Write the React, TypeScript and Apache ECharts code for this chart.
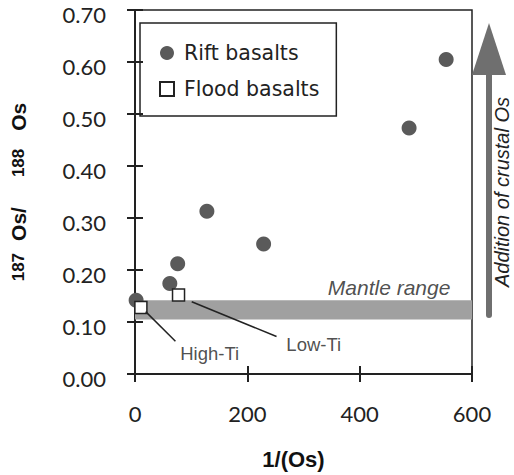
import React, { useEffect, useRef } from "react";
import * as echarts from "echarts";

// Data
const riftX = [2, 62, 76, 128, 229, 488, 554];
const riftY = [0.142, 0.174, 0.212, 0.313, 0.25, 0.473, 0.605];
const floodX = [10.5, 77.5];
const floodY = [0.128, 0.152];
const mantleRange = [0.105, 0.142];
const mantleX = [0, 600];
const xTickRange = [0, 600, 200];
const yTickRange = [0, 0.7, 0.1];
const annotationNames = ["High-Ti", "Low-Ti"];
const leaderFrom = [[19, 0.12], [101, 0.139]];
const leaderTo = [[72, 0.063], [252, 0.072]];
const labelAt = [[80.5, 0.04], [269.5, 0.057]];
const mantleLabelAt = [561.5, 0.167];

const SANS = "Lato, 'Open Sans', sans-serif";
const WIDE = "'DejaVu Sans', sans-serif";
const ARIAL = "'Liberation Sans', Arial, sans-serif";

export default function App() {
  const ref = useRef<HTMLDivElement>(null);
  useEffect(() => {
    document.body.style.margin = "0";
    if (!ref.current) return;
    const chart = echarts.init(ref.current, undefined, { renderer: "svg" });
    const axisColor = "#222";
    const xAxisBase = {
      type: "value",
      min: xTickRange[0],
      max: xTickRange[1],
      interval: xTickRange[2],
      splitLine: { show: false },
    };
    const yAxisBase = {
      type: "value",
      min: yTickRange[0],
      max: yTickRange[1],
      interval: yTickRange[2],
      splitLine: { show: false },
    };
    chart.setOption({
      animation: false,
      backgroundColor: "#fff",
      grid: {
        left: 129,
        right: 42,
        top: 10,
        bottom: 97,
        show: true,
        borderColor: axisColor,
        borderWidth: 1.5,
        backgroundColor: "transparent",
      },
      legend: {
        left: 140,
        top: 23,
        orient: "vertical",
        borderColor: axisColor,
        borderWidth: 1.5,
        padding: [19, 17, 16, 19],
        itemGap: 14,
        itemWidth: 14,
        itemHeight: 14,
        textStyle: {
          fontFamily: WIDE,
          fontSize: 20.5,
          lineHeight: 22,
          color: "#222",
          padding: [0, 0, 0, 5],
        },
        data: [
          { name: "Rift basalts", icon: "circle" },
          { name: "Flood basalts", icon: "rect" },
        ],
      },
      xAxis: [
        {
          ...xAxisBase,
          position: "bottom",
          axisLine: { show: true, lineStyle: { color: axisColor, width: 2 } },
          axisTick: { show: true, inside: false, length: 8, lineStyle: { color: axisColor, width: 2 } },
          axisLabel: { show: true, margin: 28, fontFamily: SANS, fontSize: 22, color: "#222" },
          name: "1/(Os)",
          nameLocation: "middle",
          nameGap: 74,
          nameTextStyle: { fontFamily: ARIAL, fontWeight: "bold", fontSize: 22, color: "#111", padding: [0, 20, 0, 0] },
        },
        {
          ...xAxisBase,
          position: "bottom",
          axisLine: { show: false },
          axisTick: { show: true, inside: true, length: 8, lineStyle: { color: axisColor, width: 2 } },
          axisLabel: { show: false },
        },
      ],
      yAxis: [
        {
          ...yAxisBase,
          position: "left",
          axisLine: { show: true, lineStyle: { color: axisColor, width: 2 } },
          axisTick: { show: true, inside: false, length: 8, lineStyle: { color: axisColor, width: 2 } },
          axisLabel: {
            show: true,
            margin: 29,
            fontFamily: SANS,
            fontSize: 22,
            color: "#222",
            verticalAlign: "top",
            lineHeight: 8,
            formatter: (v: number) => v.toFixed(2),
          },
          name: "{n|187}{o|Os/}{m|188}{p|Os}",
          nameLocation: "middle",
          nameGap: 106,
          nameRotate: 90,
          nameTextStyle: {
            color: "#111",
            rich: {
              n: { fontFamily: ARIAL, fontWeight: "bold", fontSize: 17, padding: [0, 12, 0, 0] },
              o: { fontFamily: ARIAL, fontWeight: "bold", fontSize: 21, padding: [0, 30, 0, 0] },
              m: { fontFamily: ARIAL, fontWeight: "bold", fontSize: 17, padding: [0, 18, 0, 0] },
              p: { fontFamily: ARIAL, fontWeight: "bold", fontSize: 21 },
            },
          },
        },
        {
          ...yAxisBase,
          position: "left",
          axisLine: { show: false },
          axisTick: { show: true, inside: true, length: 8, lineStyle: { color: axisColor, width: 2 } },
          axisLabel: { show: false },
        },
      ],
      series: [
        {
          name: "Mantle range",
          type: "scatter",
          data: [],
          z: 1,
          markArea: {
            silent: true,
            itemStyle: { color: "#a0a0a0" },
            label: { show: false },
            data: [[
              { xAxis: mantleX[0], yAxis: mantleRange[0] },
              { xAxis: mantleX[1], yAxis: mantleRange[1] },
            ]],
          },
          markLine: {
            silent: true,
            symbol: "none",
            lineStyle: { color: "#222", width: 1.5, type: "solid" },
            label: { show: false },
            data: leaderFrom.map((f, i) => [{ coord: f }, { coord: leaderTo[i] }]),
          },
        },
        {
          name: "Rift basalts",
          type: "scatter",
          z: 2,
          symbol: "circle",
          symbolSize: 15,
          itemStyle: { color: "#5a5a5a", opacity: 1 },
          data: riftX.map((x, i) => [x, riftY[i]]),
        },
        {
          name: "Flood basalts",
          type: "scatter",
          z: 3,
          symbol: "rect",
          symbolSize: 12,
          itemStyle: { color: "#fff", borderColor: "#222", borderWidth: 1.5, opacity: 1 },
          data: floodX.map((x, i) => [x, floodY[i]]),
        },
        {
          name: "labels",
          type: "scatter",
          z: 4,
          symbol: "circle",
          symbolSize: 0,
          silent: true,
          data: [
            ...annotationNames.map((n, i) => ({
              value: labelAt[i],
              name: n,
              label: { position: "right", distance: 0, fontFamily: ARIAL, fontSize: 18.5, color: "#222" },
            })),
            {
              value: mantleLabelAt,
              name: "Mantle range",
              label: { position: "left", distance: 0, fontFamily: ARIAL, fontStyle: "italic", fontSize: 21, color: "#222" },
            },
          ],
          label: { show: true, formatter: (p: any) => p.name },
        },
      ],
      graphic: [
        {
          type: "polygon",
          shape: { points: [[489, 23], [506, 75], [472, 75]] },
          style: { fill: "#6f6f6f" },
          silent: true,
        },
        {
          type: "rect",
          shape: { x: 486, y: 74, width: 6, height: 244, r: [0, 0, 3, 3] },
          style: { fill: "#6f6f6f" },
          silent: true,
        },
        {
          type: "text",
          x: 502,
          y: 192,
          rotation: Math.PI / 2,
          style: {
            text: "Addition of crustal Os",
            fontFamily: ARIAL,
            fontStyle: "italic",
            fontSize: 20,
            fill: "#222",
            align: "center",
            verticalAlign: "middle",
          },
          silent: true,
        },
      ],
    });
    return () => chart.dispose();
  }, []);
  return <div ref={ref} style={{ width: 514, height: 475 }} />;
}
